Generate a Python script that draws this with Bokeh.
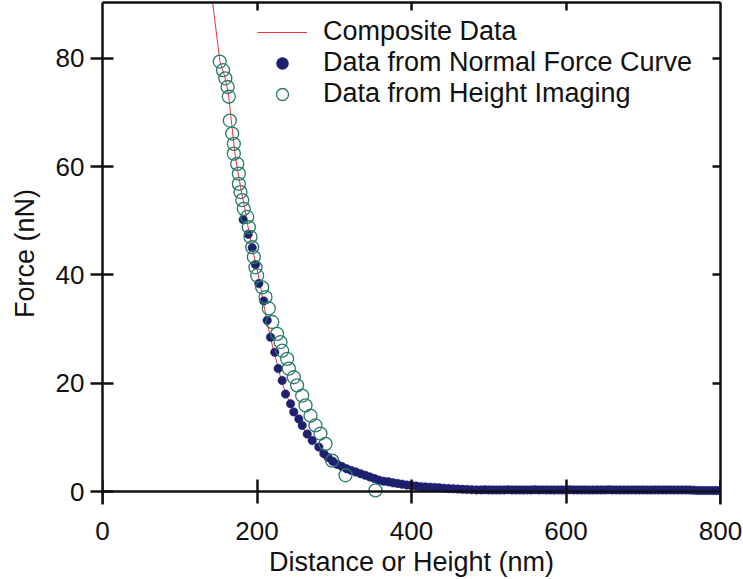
from bokeh.plotting import figure
from bokeh.models import Range1d, LinearAxis, FixedTicker, Legend, LegendItem
from bokeh.embed import file_html
from bokeh.resources import INLINE

# ---- data ----
composite_x = [141.5, 152, 158, 163, 166, 169, 172, 176, 180, 184, 188, 192, 196, 200, 205,
               210, 215, 220, 225, 230, 235, 240, 245, 250, 260, 270, 280, 290, 300, 315,
               330, 350, 370, 400, 440, 480, 600, 770, 800]
composite_y = [91.5, 79.4, 76.8, 73.5, 69.5, 65.5, 61.8, 58.4, 55.3, 52.5, 49.2, 46.3, 43.6, 41.1, 37.4,
               33.6, 30.0, 26.9, 24.2, 21.4, 19.0, 17.2, 15.6, 14.0, 11.6, 9.7, 7.9, 6.5, 5.4, 4.3,
               3.5, 2.5, 1.8, 1.1, 0.7, 0.3, 0.3, 0.25, 0.15]

normal_x = [182.1, 188.6, 193.8, 198.0, 202.4, 208.8, 213.2, 217.5, 223.0, 227.4, 232.6, 236.9,
            243.4, 247.6, 254.1, 258.5, 265.0, 271.5, 280.0, 286.5, 292, 298, 304, 310, 316, 322,
            328, 334, 340, 346, 352, 358, 364, 370, 376, 382, 388, 394, 400, 406, 412, 418, 424,
            430, 436, 442, 448, 454, 460, 466, 472, 478, 484, 490, 495, 500, 505, 510, 515, 520,
            525, 530, 535, 540, 545, 550, 555, 560, 565, 570, 575, 580, 585, 590, 595, 600, 605,
            610, 615, 620, 625, 630, 635, 640, 645, 650, 655, 660, 665, 670, 675, 680, 685, 690,
            695, 700, 705, 710, 715, 720, 725, 730, 735, 740, 745, 750, 755, 760, 765, 770, 775,
            780, 785, 790, 795, 800]
normal_y = [50.2, 47.5, 45.0, 41.9, 38.4, 35.2, 31.6, 28.5, 25.7, 22.7, 20.5, 18.0,
            16.2, 14.7, 13.4, 12.2, 10.6, 9.4, 8.2, 7.0, 6.3, 5.6, 5.0, 4.6, 4.2, 3.9,
            3.6, 3.3, 3.0, 2.7, 2.4, 2.1, 1.9, 1.8, 1.6, 1.5, 1.35, 1.2, 1.1, 1.0, 0.9, 0.85, 0.8,
            0.75, 0.7, 0.6, 0.55, 0.5, 0.45, 0.4, 0.38, 0.32, 0.3, 0.3, 0.32, 0.3, 0.3, 0.28, 0.3, 0.3,
            0.32, 0.3, 0.3, 0.3, 0.28, 0.3, 0.3, 0.32, 0.3, 0.3, 0.3, 0.3, 0.28, 0.3, 0.3, 0.3, 0.32,
            0.3, 0.3, 0.3, 0.3, 0.28, 0.3, 0.3, 0.3, 0.3, 0.32, 0.3, 0.3, 0.3, 0.28, 0.3, 0.3, 0.3,
            0.3, 0.3, 0.3, 0.28, 0.3, 0.3, 0.3, 0.3, 0.3, 0.28, 0.3, 0.3, 0.3, 0.28, 0.25, 0.2, 0.18,
            0.18, 0.18, 0.18, 0.18, 0.18]

height_x = [151.8, 156.0, 159.0, 162.0, 163.5, 164.8, 167.9, 170.0, 170.0, 174.4, 176.5, 176.5,
            178.6, 180.9, 182.9, 187.3, 189.4, 191.6, 193.8, 195.9, 198.0, 200.2, 206.7, 211.0,
            215.3, 219.7, 226.1, 230.4, 232.6, 239.0, 241.2, 247.6, 251.9, 258.5, 262.8, 269.3,
            275.7, 282.2, 288.7, 297.3, 314.6, 353.4]
height_y = [79.4, 77.8, 76.3, 74.7, 72.9, 68.5, 66.1, 64.2, 62.4, 60.5, 58.7, 56.8,
            55.3, 53.8, 52.2, 50.7, 48.8, 47.0, 45.1, 43.3, 41.4, 39.9, 37.7, 35.9,
            33.8, 31.3, 29.1, 27.6, 26.0, 24.5, 22.7, 21.1, 19.6, 17.7, 15.9, 14.0,
            12.2, 10.7, 8.8, 5.7, 3.0, 0.2]

x_ticks = [0, 200, 400, 600, 800]
y_ticks = [0, 20, 40, 60, 80]
x_title = "Distance or Height (nm)"
y_title = "Force (nN)"

FONT = "Liberation Sans"
BLACK = "#111111"

p = figure(width=743, height=579, output_backend="svg", toolbar_location=None,
           x_range=Range1d(0, 800), y_range=Range1d(-2.4, 90.3),
           x_axis_location=None, y_axis_location=None,
           min_border_left=102, min_border_right=23, min_border_top=2, min_border_bottom=75)
p.outline_line_color = None
p.xgrid.visible = False
p.ygrid.visible = False
p.background_fill_color = "white"
p.border_fill_color = "white"


def style(ax, tin, tout, labels=True):
    ax.axis_line_color = BLACK
    ax.axis_line_width = 2.5
    ax.major_tick_line_color = BLACK
    ax.major_tick_line_width = 2.5
    ax.major_tick_in = tin
    ax.major_tick_out = tout
    ax.minor_tick_line_color = None
    if labels:
        ax.major_label_text_font = FONT
        ax.major_label_text_font_size = "26px"
        ax.major_label_text_color = BLACK
        ax.axis_label_text_font = FONT
        ax.axis_label_text_font_size = "27px"
        ax.axis_label_text_font_style = "normal"
        ax.axis_label_text_color = BLACK
    else:
        ax.major_label_text_color = None
        ax.major_label_text_font_size = "0px"
        ax.major_label_standoff = 0


# x axis line + ticks drawn at y = 0
xax = LinearAxis(ticker=FixedTicker(ticks=x_ticks), fixed_location=0)
style(xax, 12, 12, labels=False)
p.add_layout(xax, "below")

# x tick labels + title (no line / ticks), under the frame
xlab = LinearAxis(ticker=FixedTicker(ticks=x_ticks), axis_label=x_title)
style(xlab, 0, 0)
xlab.axis_line_color = None
xlab.major_tick_line_color = None
xlab.major_label_standoff = 17
xlab.axis_label_standoff = 4
p.add_layout(xlab, "below")

yax = LinearAxis(ticker=FixedTicker(ticks=y_ticks), axis_label=y_title)
style(yax, 11, 12)
yax.major_label_standoff = 6
yax.axis_label_standoff = 13
p.add_layout(yax, "left")

tax = LinearAxis(ticker=FixedTicker(ticks=[200, 400, 600]))
style(tax, 8, 0, labels=False)
p.add_layout(tax, "above")

rax = LinearAxis(ticker=FixedTicker(ticks=[20, 40, 60, 80]))
style(rax, 8, 0, labels=False)
p.add_layout(rax, "right")

r_comp = p.line(composite_x, composite_y, line_color="#e8323a", line_width=1)
r_norm = p.scatter(normal_x, normal_y, marker="circle", size=8.5,
                   fill_color="#1c206e", line_color="#1c206e", line_width=0.5)
r_height = p.scatter(height_x, height_y, marker="circle", size=13,
                     fill_color=None, line_color="#2b7a6a", line_width=1.3)

legend = Legend(items=[
    LegendItem(label="Composite Data", renderers=[r_comp]),
    LegendItem(label="Data from Normal Force Curve", renderers=[r_norm]),
    LegendItem(label="Data from Height Imaging", renderers=[r_height]),
], location=(155, 395))
legend.border_line_color = None
legend.background_fill_alpha = 0
legend.padding = 0
legend.margin = 0
legend.spacing = 0
legend.glyph_width = 50
legend.glyph_height = 30
legend.label_height = 30
legend.label_standoff = 16
legend.label_text_font = FONT
legend.label_text_font_size = "27px"
legend.label_text_color = BLACK
p.add_layout(legend)

open("out.html", "w").write(file_html(p, INLINE))
